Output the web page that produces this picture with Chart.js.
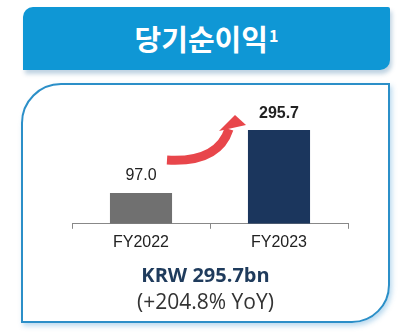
<!DOCTYPE html>
<html>
<head>
<meta charset="utf-8">
<script src="https://cdn.jsdelivr.net/npm/chart.js@4"></script>
<style>
  body { margin: 0; width: 412px; height: 332px; background: #fff; position: relative; overflow: hidden; }
  .header {
    position: absolute; left: 23px; top: 7px; width: 367px; height: 63px;
    background: #0f97d5; border-radius: 10px 2px 10px 0;
    box-shadow: 2px 4px 4px rgba(0, 80, 140, 0.25);
    color: #fff; font-family: "Noto Sans CJK KR", sans-serif; font-weight: bold;
    font-size: 29px; text-align: center; line-height: 63px;
  }
  .header sup { font-size: 16px; vertical-align: 0; position: relative; top: -9px; margin-left: 1px; }
  .box {
    position: absolute; left: 21px; top: 83px; width: 369px; height: 240px; box-sizing: border-box;
    border: 2.5px solid #2b8fc8; border-radius: 40px 0 38px 0;
    box-shadow: 2px 3px 5px rgba(60, 150, 210, 0.35);
  }
  #wrap { position: absolute; left: 0; top: 95px; width: 412px; height: 170px; }
  .krw {
    position: absolute; left: 21px; width: 369px; top: 261px; text-align: center;
    font-family: "Open Sans", sans-serif; font-weight: bold; font-size: 20px; color: #1f3b5c; line-height: 28px;
  }
  .yoy {
    position: absolute; left: 21px; width: 369px; top: 287px; text-align: center;
    font-family: "Open Sans", sans-serif; font-size: 21px; color: #333; line-height: 28px;
  }
</style>
</head>
<body>
<div class="header">당기순이익<sup>1</sup></div>
<div class="box"></div>
<div id="wrap"><canvas id="myChart"></canvas></div>
<div class="krw">KRW 295.7bn</div>
<div class="yoy">(+204.8% YoY)</div>
<script>
const years = ['FY2022', 'FY2023'];
const netIncome = [97.0, 295.7];
const valueLabels = ['97.0', '295.7'];
const barColors = ['#707070', '#1b365d'];

// etiquetas sobre las barras y la flecha roja
const extras = {
  id: 'extras',
  afterDatasetsDraw(chart) {
    const ctx = chart.ctx;
    const bars = chart.getDatasetMeta(0).data;
    ctx.save();
    ctx.fillStyle = '#222';
    ctx.textAlign = 'center';
    ctx.textBaseline = 'middle';
    bars.forEach((bar, i) => {
      ctx.font = (i == 1 ? 'bold ' : '') + '16px "Liberation Sans", Arial';
      ctx.fillText(valueLabels[i], bar.x, bar.y - 17);
    });

    const b0 = bars[0], b1 = bars[1];
    const sx = b0.x + 26, sy = b0.y - 33;
    const ex = b1.x - 50, ey = b1.y - 1;
    ctx.strokeStyle = '#e8464b';
    ctx.lineWidth = 9;
    ctx.lineCap = 'butt';
    ctx.beginPath();
    ctx.moveTo(sx, sy);
    ctx.quadraticCurveTo(b1.x - 61, b0.y - 30, ex, ey);
    ctx.stroke();
    ctx.fillStyle = '#e8464b';
    ctx.beginPath();
    ctx.moveTo(b1.x - 44, b1.y - 15);
    ctx.lineTo(b1.x - 60, b1.y + 1);
    ctx.lineTo(b1.x - 33, b1.y - 5);
    ctx.closePath();
    ctx.fill();
    ctx.restore();
  }
};

new Chart(document.getElementById('myChart'), {
  type: 'bar',
  data: {
    labels: years,
    datasets: [{
      data: netIncome,
      backgroundColor: barColors,
      barPercentage: 0.45,
      categoryPercentage: 1
    }]
  },
  options: {
    responsive: true,
    maintainAspectRatio: false,
    animation: false,
    layout: { padding: { left: 72, right: 64, top: 10, bottom: 9 } },
    plugins: { legend: { display: false }, tooltip: { enabled: false } },
    scales: {
      x: {
        grid: { display: true, drawOnChartArea: false, drawTicks: true, tickLength: 5, color: '#888' },
        border: { display: true, color: '#888', width: 1 },
        ticks: { color: '#222', padding: 4, font: { family: '"Liberation Sans", Arial', size: 16 } }
      },
      y: { display: false, min: 0, max: 375 }
    }
  },
  plugins: [extras]
});
</script>
</body>
</html>
